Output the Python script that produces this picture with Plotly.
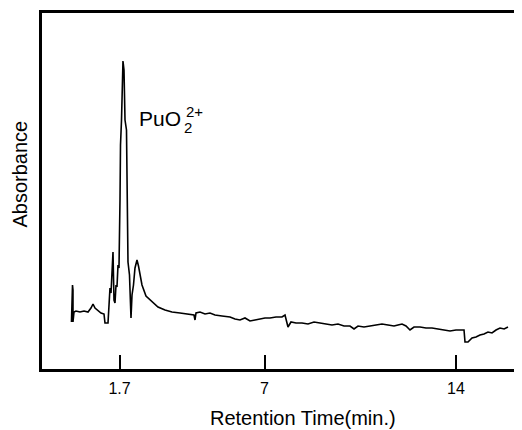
import plotly.graph_objects as go

# Retention time (min) and absorbance (arbitrary units)
time_min = [
    -0.060, -0.040, -0.022, -0.004, -0.004, 0.033, 0.106, 0.252, 0.399, 0.545,
    0.654, 0.728, 0.801, 0.910, 1.020, 1.130, 1.166, 1.276, 1.313, 1.349,
    1.386, 1.459, 1.495, 1.532, 1.569, 1.605, 1.642, 1.678, 1.715, 1.733,
    1.770, 1.806, 1.824, 1.861, 1.879, 1.898, 1.952, 1.971, 1.989, 2.007,
    2.062, 2.117, 2.154, 2.208, 2.263, 2.336, 2.391, 2.446, 2.519, 2.665,
    2.885, 3.104, 3.360, 3.616, 3.909, 4.201, 4.420, 4.457, 4.494, 4.640,
    4.823, 5.005, 5.188, 5.444, 5.737, 5.920, 6.102, 6.285, 6.468, 6.651,
    6.834, 7.016, 7.199, 7.419, 7.638, 7.748, 7.857, 7.967, 8.150, 8.369,
    8.589, 8.808, 9.027, 9.247, 9.466, 9.686, 9.905, 10.124, 10.271, 10.417,
    10.636, 10.856, 11.075, 11.294, 11.514, 11.733, 11.879, 12.026, 12.172, 12.318,
    12.464, 12.684, 12.903, 13.122, 13.342, 13.561, 13.781, 14.000, 14.219, 14.293,
    14.329, 14.439, 14.585, 14.731, 14.877, 15.024, 15.170, 15.316, 15.463, 15.609,
    15.759, 15.901,
]
absorbance = [
    4.6, 6.8, 8.3, 7.8, 4.6, 5.6, 5.7, 5.6, 5.7, 5.6,
    6.0, 6.4, 6.0, 5.7, 5.5, 5.4, 4.5, 4.5, 7.0, 8.0,
    7.5, 11.6, 6.8, 6.5, 8.3, 8.1, 10.3, 10.0, 16.8, 22.3,
    24.8, 27.8, 30.7, 29.8, 27.3, 24.8, 23.8, 18.8, 13.8, 10.6,
    9.3, 5.0, 7.3, 8.3, 10.0, 10.8, 10.2, 9.3, 8.3, 7.2,
    6.6, 6.1, 5.8, 5.6, 5.5, 5.4, 5.3, 4.8, 5.5, 5.6,
    5.4, 5.5, 5.3, 5.2, 5.1, 4.9, 4.8, 5.0, 4.7, 4.8,
    4.9, 5.0, 5.0, 5.1, 5.1, 5.3, 4.1, 4.6, 4.5, 4.5,
    4.4, 4.6, 4.5, 4.4, 4.3, 4.4, 4.2, 4.2, 3.9, 4.2,
    4.1, 4.2, 4.3, 4.4, 4.3, 4.2, 4.3, 4.4, 4.2, 3.8,
    4.1, 4.1, 4.0, 4.0, 3.9, 3.8, 3.7, 3.8, 3.8, 3.8,
    2.6, 2.6, 3.0, 3.1, 3.3, 3.4, 3.6, 3.5, 3.8, 4.0,
    3.9, 4.1,
]

tick_values = [1.7, 7, 14]
tick_labels = ["1.7", "7", "14"]

FONT = "Liberation Sans, Arial, Helvetica, sans-serif"

fig = go.Figure()
fig.add_trace(go.Scatter(
    x=time_min, y=absorbance, mode="lines",
    line=dict(color="black", width=1.6),
    showlegend=False, hoverinfo="skip",
))

fig.update_layout(
    width=514, height=422,
    margin=dict(l=34, r=0, t=5, b=61),
    paper_bgcolor="white", plot_bgcolor="white",
    font=dict(family=FONT, color="black"),
    xaxis=dict(
        range=[-1.137, 16.413],
        showgrid=False, zeroline=False,
        showline=True, linecolor="black", linewidth=2.5, mirror=True,
        ticks="inside", ticklen=14, tickwidth=2, tickcolor="black",
        tickvals=tick_values, ticktext=tick_labels,
        tickfont=dict(size=16, family=FONT, color="black"),
        ticklabelstandoff=3,
    ),
    yaxis=dict(
        range=[-0.1, 35.5],
        showgrid=False, zeroline=False,
        showline=True, linecolor="black", linewidth=2.5,
        showticklabels=False, ticks="",
    ),
    annotations=[
        dict(text="PuO", x=2.318, y=24.95, xref="x", yref="y",
             xanchor="left", yanchor="middle", showarrow=False,
             font=dict(size=21, family=FONT, color="black")),
        dict(text="2", x=3.982, y=24.03, xref="x", yref="y",
             xanchor="left", yanchor="middle", showarrow=False,
             font=dict(size=15, family=FONT, color="black")),
        dict(text="2+", x=4.055, y=25.63, xref="x", yref="y",
             xanchor="left", yanchor="middle", showarrow=False,
             font=dict(size=15, family=FONT, color="black")),
        dict(text="Retention Time(min.)", x=0.544, y=-0.1365, xref="paper", yref="paper",
             xanchor="center", yanchor="middle", showarrow=False,
             font=dict(size=20, family=FONT, color="black")),
        dict(text="Absorbance", x=-0.0467, y=0.548, xref="paper", yref="paper",
             xanchor="center", yanchor="middle", showarrow=False, textangle=-90,
             font=dict(size=20, family=FONT, color="black")),
    ],
)

fig.write_html("out.html")
